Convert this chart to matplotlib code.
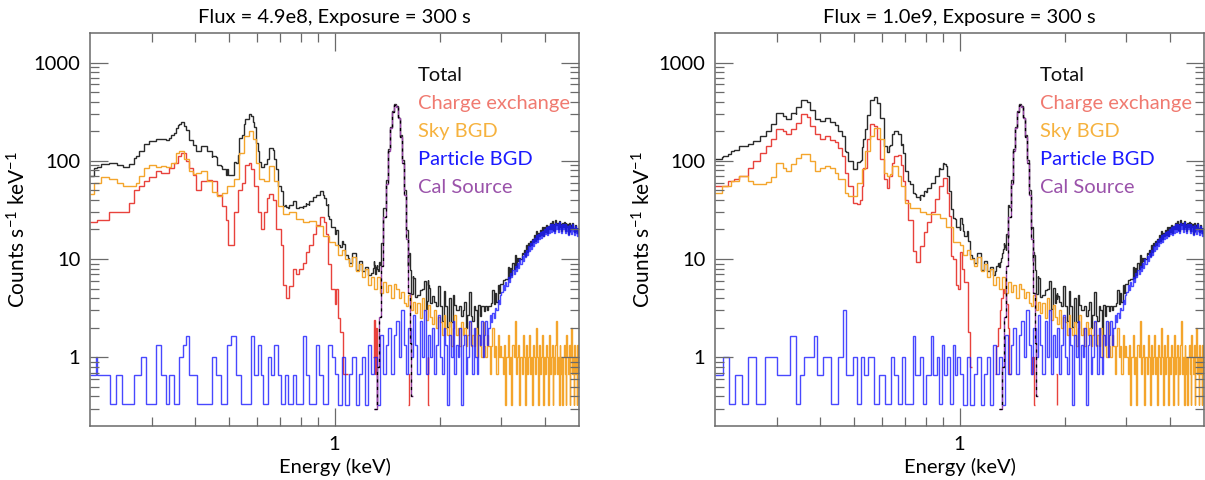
import numpy as np
import matplotlib
matplotlib.use('Agg')
import matplotlib.pyplot as plt
from matplotlib.ticker import FixedLocator, NullFormatter, FixedFormatter

plt.rcParams['font.family'] = ['Lato', 'DejaVu Sans']
plt.rcParams['mathtext.default'] = 'regular'

# ---------------- data (counts s^-1 keV^-1 per energy bin, keV edges) ----------------
# above 1 keV: sky and particle background look the same in both runs
hi_e = np.round(np.r_[np.arange(1.0, 2.0, 0.025), np.arange(2.0, 5.0001, 0.025)], 3)
sky_hi = [14, 11, 12.5, 10, 8.5, 10.5, 7.5, 9, 6.5, 8, 5.5, 6.5, 5, 6.5, 4.5, 5.8,
          4.6, 5.4, 4, 5.6, 5, 4, 4.6, 3.6, 3.3, 4.3, 3, 3.7, 2.8, 3.6, 2.5, 4,
          3, 2.4, 3.4, 2.6, 2.2, 3, 2, 2.6,
          2.3, 1.7, 2.7, 2.0, 1.7, 2.3, 1.3, 2.0, 2.7, 1.7, 2.0, 1.3, 2.3, 1.7, 2.0, 1.3, 1.7, 2.3, 1.3, 1.7,
          1.3, 2.0, 1.0, 1.7, 1.3, 1.0, 2.3, 1.3, 1.0, 1.7, 1.3, 0.67, 1.3, 2.0, 1.0, 1.3, 0.67, 1.7, 1.0, 1.3,
          1.0, 0.67, 1.33, 0.33, 1.0, 1.67, 0.67, 1.0, 0.33, 1.33, 1.0, 2.33, 0.67, 1.0, 1.33, 0.33, 1.0, 0.67, 1.67, 1.0,
          0.33, 1.33, 0.67, 1.0, 1.67, 0.67, 1.0, 0.33, 1.33, 1.0, 0.67, 2.0, 1.0, 0.33, 1.33, 0.67, 1.0, 1.67, 0.33, 1.0,
          0.67, 1.33, 1.0, 0.33, 1.67, 0.67, 1.0, 1.33, 0.33, 1.0, 0.67, 1.33, 2.33, 0.67, 1.0, 0.33, 1.33, 0.67, 1.0, 0.33,
          1.0, 1.33, 0.67, 0.33, 1.67, 1.0, 0.67, 1.33, 0.33, 1.0, 2.0, 0.67, 1.0, 0.33, 1.33, 0.67, 1.0, 0.33, 1.33, 0.67]
part_hi = [0.67, 0.33, 1.0, 0.33, 0.67, 1.0, 0.33, 0.67, 1.0, 0.33, 1.33, 0.67,
           1.0, 0.33, 1.67, 0.67, 1.33, 2.0, 0.67, 1.67, 2.33, 1.0, 3.0, 1.33,
           0.67, 2.0, 1.0, 2.67, 1.33, 0.67, 2.33, 1.0, 3.0, 0.67, 1.67, 1.0,
           2.0, 0.67, 1.33, 2.67,
           1.0, 0.67, 2.0, 1.33, 0.33, 1.67, 1.0, 2.33, 0.67, 1.33, 1.0, 2.0, 0.33, 1.33, 1.67, 0.67, 1.0, 2.33, 1.33, 0.67,
           2.0, 1.0, 0.67, 1.67, 1.33, 2.33, 1.0, 1.67, 2.33, 1.33, 2.0, 2.67, 2.3, 2.8, 2.5, 3.2, 3.0, 3.8, 3.5, 4.3,
           4.6, 5.4, 4.8, 5.9, 5.3, 6.6, 5.8, 7.2, 6.5, 7.8, 7.0, 8.6, 7.6, 9.2, 8.2, 10.0, 9.0, 10.8, 9.6, 11.5,
           10.5, 12.5, 11.0, 13.5, 12.0, 14.5, 12.8, 15.5, 13.5, 16.5, 14.5, 17.5, 15.0, 18.0, 16.0, 19.0, 16.5, 19.5, 17.0, 20.0,
           18.0, 21.0, 17.5, 21.5, 18.5, 22.5, 19.0, 23.0, 19.5, 22.0, 18.5, 23.5, 20.0, 22.5, 19.0, 24.0, 20.0, 22.0, 18.5, 23.0,
           20.0, 22.5, 18.5, 23.0, 19.5, 21.5, 17.5, 22.0, 19.0, 21.0, 18.0, 22.5, 19.5, 20.5, 17.5, 21.5, 18.5, 20.5, 17.0, 20.0]

# Al K calibration line
cal_e = np.round(np.arange(1.30, 1.6801, 0.02), 3)
cal_v = [0.3, 0.8, 2.6, 8.5, 27, 58, 125, 215, 315, 372, 355, 270, 175, 95, 45, 16, 4.5, 1.4, 0.4]

# ---- left run: flux 4.9e8 ----
cx1_e = [0.200, 0.209, 0.227, 0.259, 0.267, 0.276, 0.286, 0.295, 0.308, 0.319,
         0.337, 0.348, 0.356, 0.364, 0.376, 0.385, 0.394, 0.403, 0.416, 0.431,
         0.446, 0.461, 0.477, 0.490, 0.497, 0.517, 0.530, 0.545, 0.556, 0.568,
         0.577, 0.590, 0.603, 0.616, 0.630, 0.640, 0.650, 0.668, 0.681, 0.704,
         0.711, 0.727, 0.743, 0.760, 0.777, 0.794, 0.811, 0.829, 0.848, 0.866,
         0.886, 0.906, 0.935, 0.945, 0.958, 0.975, 1.000, 1.012, 1.025, 1.040,
         1.060, 1.090]
cx1_v = [24, 25, 30, 37, 51, 56, 62, 68, 79, 76,
         85, 96, 112, 120, 100, 85, 72, 50, 63, 64,
         62, 45, 35, 25, 14, 30, 50, 60, 90, 95,
         82, 55, 30, 20, 30, 42, 46, 40, 20, 14,
         5.5, 4.0, 5.3, 7.9, 7.0, 8.0, 9.2, 11.7, 14, 18,
         22, 27, 24, 18, 9, 5, 3.5, 5, 2.5, 1.8,
         0.68]
cx1_spike_e = [[1.285, 1.295, 1.305, 1.315, 1.325, 1.335], [1.625, 1.635, 1.645], [1.835, 1.845, 1.855, 1.865]]
cx1_spike_v = [[1.0, 2.4, 0.67, 2.0, 0.33], [0.33, 0.67], [0.67, 1.0, 0.33]]

sky1_e = [0.200, 0.205, 0.215, 0.227, 0.239, 0.248, 0.270, 0.276, 0.286, 0.295,
          0.308, 0.319, 0.330, 0.341, 0.352, 0.360, 0.372, 0.384, 0.394, 0.403,
          0.416, 0.431, 0.446, 0.461, 0.477, 0.493, 0.517, 0.534, 0.552, 0.571,
          0.584, 0.596, 0.610, 0.630, 0.651, 0.673, 0.688, 0.711, 0.743, 0.777,
          0.811, 0.848, 0.886, 0.926, 0.967, 1.000]
sky1_v = [46, 60, 68, 65, 60, 56, 60, 70, 85, 90,
          87, 89, 86, 96, 121, 126, 104, 79, 73, 76,
          79, 62, 48, 44, 47, 56, 65, 121, 179, 201,
          166, 96, 66, 62, 89, 62, 35, 29, 30, 25.5,
          23.6, 24.5, 21.8, 17.3, 15]

part1_e = [0.200, 0.208, 0.210, 0.228, 0.2375, 0.2476, 0.267, 0.2803, 0.2897, 0.3086,
           0.3189, 0.3296, 0.3369, 0.348, 0.3597, 0.3677, 0.3758, 0.3841, 0.4055, 0.4474,
           0.4574, 0.473, 0.494, 0.5048, 0.5219, 0.5396, 0.5767, 0.5895, 0.6026, 0.616,
           0.6228, 0.644, 0.6583, 0.673, 0.688, 0.7033, 0.720, 0.735, 0.760, 0.775,
           0.8114, 0.8294, 0.8478, 0.8858, 0.9055, 0.9256, 0.957, 0.985, 1.000]
part1_v = [0.667, 1.0, 0.667, 0.333, 0.667, 0.333, 0.667, 1.0, 0.333, 1.333,
           0.667, 0.333, 0.667, 0.333, 1.0, 1.333, 1.667, 0.667, 0.333, 1.0,
           0.667, 0.333, 1.333, 1.667, 0.667, 0.333, 1.667, 0.667, 1.333, 0.667,
           0.333, 1.0, 0.667, 1.333, 0.667, 0.333, 0.667, 0.333, 0.667, 0.333,
           1.667, 0.667, 0.333, 1.333, 0.667, 0.333, 1.333, 1.0]

# ---- right run: flux 1.0e9 ----
cx2_e = [0.200, 0.2176, 0.2273, 0.235, 0.2483, 0.2566, 0.2683, 0.2806, 0.2896, 0.2993,
         0.313, 0.3199, 0.3306, 0.3418, 0.3534, 0.3653, 0.3732, 0.3858, 0.3989, 0.4124,
         0.4264, 0.4408, 0.4506, 0.4607, 0.4709, 0.4814, 0.4977, 0.5087, 0.520, 0.5257,
         0.5315, 0.5433, 0.5554, 0.5678, 0.5804, 0.5933, 0.6066, 0.6201, 0.6269, 0.6409,
         0.648, 0.6666, 0.6814, 0.6889, 0.6965, 0.7119, 0.7359, 0.750, 0.770, 0.790,
         0.810, 0.831, 0.852, 0.874, 0.897, 0.920, 0.931, 0.943, 0.955, 0.980,
         0.992, 1.005, 1.018, 1.031, 1.057, 1.071, 1.085]
cx2_v = [55, 62.6, 66, 70, 85, 100, 121, 140, 166, 210,
         200, 187, 210, 244, 300, 280, 227, 187, 166, 180,
         163, 155, 135, 112, 76, 55, 37.6, 36, 40, 55,
         85, 166, 237, 225, 166, 104, 65, 53.5, 70, 96,
         112, 115, 90, 62.6, 40, 25, 12, 9.3, 13.6, 18.7,
         23.6, 29.8, 40.7, 55.5, 67, 47.5, 27.6, 10.8, 10, 5.4,
         5, 11.7, 8, 5.8, 1.8, 0.8]
cx2_spike_e = [[1.26, 1.274, 1.288, 1.302, 1.316, 1.33, 1.344, 1.358, 1.372, 1.386, 1.40],
               [1.60, 1.615, 1.63, 1.645], [1.885, 1.895, 1.905]]
cx2_spike_v = [[0.67, 1.3, 2.0, 3.0, 4.0, 5.0, 4.5, 3.5, 2.0, 0.67], [0.67, 1.0, 0.33], [0.67, 0.33]]

sky2_e = [0.200, 0.210, 0.2223, 0.235, 0.2483, 0.2566, 0.2806, 0.2896, 0.2993, 0.313,
          0.3199, 0.3306, 0.3418, 0.3534, 0.3653, 0.3732, 0.3858, 0.3989, 0.4124, 0.4264,
          0.4408, 0.4506, 0.4709, 0.4814, 0.5087, 0.5257, 0.5354, 0.5554, 0.5678, 0.5933,
          0.6066, 0.6201, 0.6334, 0.6409, 0.6666, 0.6814, 0.6965, 0.720, 0.769, 0.8036,
          0.8776, 0.9171, 0.9583, 1.000]
sky2_v = [47.6, 55, 62.6, 70.5, 62.6, 57.9, 60.2, 67.7, 96, 85.5,
          79, 92, 108, 116, 116, 100, 79, 85.5, 89, 85.5,
          76, 65, 47.6, 44, 60, 82, 125, 179, 218, 166,
          76, 70, 73, 89, 70, 55.7, 37.6, 33, 29.8, 28.7,
          26, 21, 15]

part2_e = [0.200, 0.2107, 0.2192, 0.228, 0.2396, 0.2486, 0.2613, 0.2785, 0.3011, 0.3287,
           0.3416, 0.3504, 0.360, 0.3829, 0.3924, 0.4083, 0.4288, 0.4504, 0.4649, 0.4731,
           0.497, 0.510, 0.522, 0.535, 0.5483, 0.5688, 0.5901, 0.6121, 0.635, 0.650,
           0.667, 0.685, 0.7006, 0.7359, 0.745, 0.770, 0.785, 0.800, 0.830, 0.841,
           0.860, 0.874, 0.890, 0.905, 0.920, 0.940, 0.955, 0.968, 0.985, 1.000]
part2_v = [0.667, 1.0, 0.333, 0.667, 0.333, 1.0, 0.333, 1.0, 0.667, 1.667,
           0.333, 0.667, 1.0, 1.667, 0.667, 1.0, 0.333, 1.0, 3.0, 0.667,
           1.0, 0.333, 1.0, 0.667, 1.0, 0.333, 0.667, 0.333, 1.0, 0.667,
           0.333, 1.0, 0.333, 1.667, 0.667, 1.0, 0.333, 0.667, 1.667, 0.667,
           1.0, 0.333, 1.333, 0.667, 1.0, 0.333, 1.333, 0.667, 1.0]

titles = ['Flux = 4.9e8, Exposure = 300 s', 'Flux = 1.0e9, Exposure = 300 s']
labels = ['Total', 'Charge exchange', 'Sky BGD', 'Particle BGD', 'Cal Source']

c_tot = '#2a2a2a'
c_cx = '#e8423c'
c_sky = '#f4a52c'
c_part = '#1a1aff'
c_cal = '#9646a6'
text_colors = ['#111111', '#f07a70', '#f6b23e', '#1a1aff', '#9a52aa']


def join(lo_e, lo_v, hi_v):
    return np.r_[lo_e, hi_e[1:]], np.r_[lo_v, hi_v]


def total_of(parts):
    e = np.unique(np.concatenate([np.asarray(p[0], float) for p in parts]))
    mid = 0.5 * (e[:-1] + e[1:])
    tot = np.zeros_like(mid)
    for ed, v in parts:
        ed = np.asarray(ed, float)
        v = np.asarray(v, float)
        i = np.searchsorted(ed, mid) - 1
        ok = (i >= 0) & (i < len(v))
        tot[ok] += v[i[ok]]
    return e, tot


def draw(ax, title, cx_e, cx_v, spk_e, spk_v, sky, part, tx):
    cx_parts = [(cx_e, cx_v)] + list(zip(spk_e, spk_v))
    tot_e, tot_v = total_of(cx_parts + [sky, part, (cal_e, cal_v)])
    lw = 1.0
    ax.stairs(tot_v, tot_e, color=c_tot, lw=lw, baseline=None)
    for ed, v in cx_parts:
        ax.stairs(v, ed, color=c_cx, lw=lw, baseline=None)
    ax.stairs(sky[1], sky[0], color=c_sky, lw=lw, baseline=None)
    ax.stairs(part[1], part[0], color=c_part, lw=lw, baseline=None, alpha=0.8)
    ax.stairs(cal_v, cal_e, color=c_cal, lw=lw, baseline=None)
    ax.stairs(cal_v, cal_e, color='black', lw=0.9, baseline=None, ls=(0, (2.5, 3.5)))

    ax.set_xscale('log')
    ax.set_yscale('log')
    ax.set_xlim(0.2, 5.0)
    ax.set_ylim(0.2, 2000)
    ax.xaxis.set_major_locator(FixedLocator([1]))
    ax.xaxis.set_major_formatter(FixedFormatter(['1']))
    ax.xaxis.set_minor_locator(FixedLocator([0.3, 0.4, 0.5, 0.6, 0.7, 0.8, 0.9, 2, 3, 4]))
    ax.xaxis.set_minor_formatter(NullFormatter())
    ax.yaxis.set_major_locator(FixedLocator([1, 10, 100, 1000]))
    ax.yaxis.set_major_formatter(FixedFormatter(['1', '10', '100', '1000']))
    ymin = [k * 10.0 ** p for p in range(-1, 4) for k in range(2, 10)]
    ax.yaxis.set_minor_locator(FixedLocator([m for m in ymin if 0.2 < m < 2000]))
    ax.yaxis.set_minor_formatter(NullFormatter())
    ax.tick_params(which='both', direction='in', top=True, right=True,
                   color='#6a6a6a', width=0.9, labelsize=14.5, pad=7)
    ax.tick_params(which='major', length=13)
    ax.tick_params(which='minor', length=6.5)
    for s in ax.spines.values():
        s.set_color('#6a6a6a')
        s.set_linewidth(1.1)

    ax.set_title(title, fontsize=14.5, pad=7)
    ax.set_xlabel('Energy (keV)', fontsize=14.5, labelpad=4)
    ax.set_ylabel('Counts s$^{-1}$ keV$^{-1}$', fontsize=15, labelpad=3)
    for k, (lab, col) in enumerate(zip(labels, text_colors)):
        ax.text(tx, 0.893 - 0.0713 * k, lab, color=col, fontsize=14.5,
                va='center', ha='left', transform=ax.transAxes)


fig = plt.figure(figsize=(12.05, 4.8), dpi=100)
ax1 = fig.add_axes([90 / 1205, 54 / 480, 489 / 1205, 393 / 480])
ax2 = fig.add_axes([715 / 1205, 54 / 480, 489 / 1205, 393 / 480])

draw(ax1, titles[0], cx1_e, cx1_v, cx1_spike_e, cx1_spike_v,
     join(sky1_e, sky1_v, sky_hi), join(part1_e, part1_v, part_hi), 0.671)
draw(ax2, titles[1], cx2_e, cx2_v, cx2_spike_e, cx2_spike_v,
     join(sky2_e, sky2_v, sky_hi), join(part2_e, part2_v, part_hi), 0.665)

fig.savefig('out.png', dpi=100)
